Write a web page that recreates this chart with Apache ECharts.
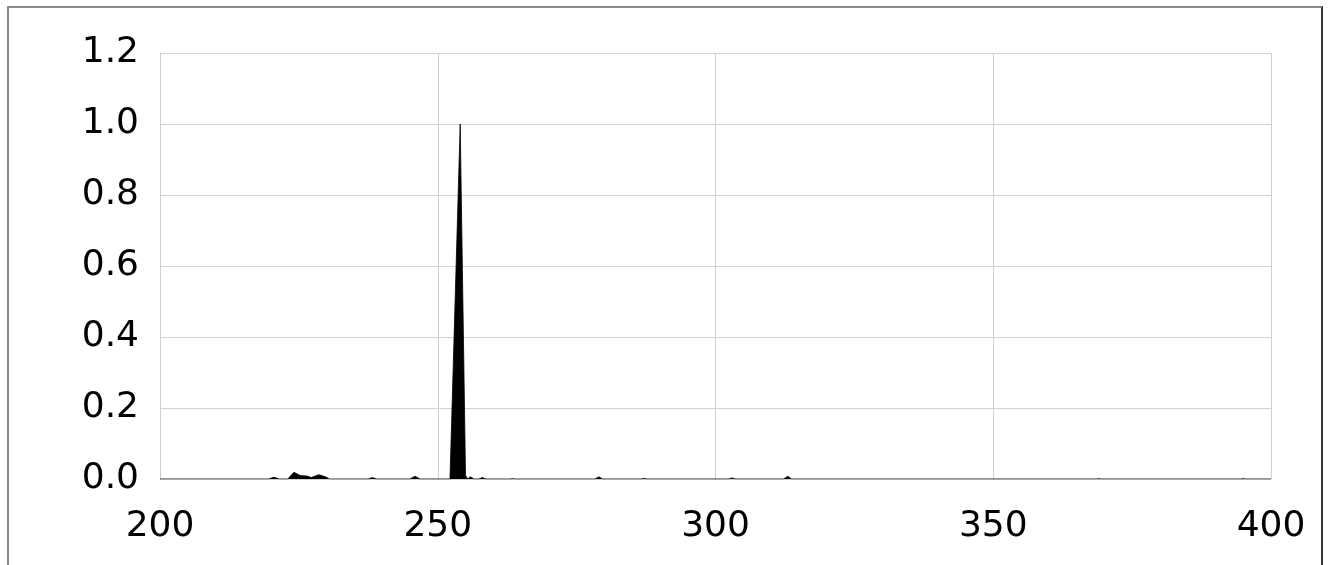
<!DOCTYPE html>
<html><head><meta charset="utf-8">
<script src="https://cdn.jsdelivr.net/npm/echarts@6/dist/echarts.min.js"></script>
<style>
html,body{margin:0;padding:0;background:#fff;}
#frame{position:absolute;left:7px;top:6px;width:1316px;height:600px;border-left:2px solid #8a8a8a;border-top:2px solid #8a8a8a;border-right:2px solid #333;box-sizing:border-box;}
#c{position:absolute;left:0;top:0;width:1329px;height:565px;}
</style></head>
<body>
<div id="frame"></div>
<div id="c"></div>
<script>
const wavelengths = [200, 219.5, 220.5, 221.5, 223, 224.1, 225.2, 226.6, 227.2, 228.6, 229.8, 230.5,
  237.5, 238.2, 239, 245, 245.9, 246.8, 252.2, 254.04, 255.0, 255.4, 255.9, 256.5, 257.4, 258, 258.7,
  263, 263.5, 264, 278.3, 279, 279.7, 286.5, 287.1, 287.7, 302.4, 303, 303.6, 312.3, 313, 313.7,
  368.5, 369, 369.5, 394.5, 395, 395.5, 400];
const intensity = [0, 0, 0.005, 0, 0, 0.019, 0.01, 0.008, 0.004, 0.012, 0.006, 0,
  0, 0.004, 0, 0, 0.008, 0, 0, 1.0, 0.01, 0, 0.006, 0, 0, 0.004, 0,
  0, 0.001, 0, 0, 0.006, 0, 0, 0.0015, 0, 0, 0.003, 0, 0, 0.008, 0,
  0, 0.001, 0, 0, 0.001, 0, 0];
const xTicks = {min: 200, max: 400, interval: 50};
const yTicks = {min: 0, max: 1.2, interval: 0.2};

const chart = echarts.init(document.getElementById('c'), null, {renderer: 'canvas'});
const font = 'DejaVu Sans';
chart.setOption({
  animation: false,
  grid: {left: 160, right: 58, top: 53, bottom: 86, containLabel: false},
  xAxis: {
    type: 'value', min: xTicks.min, max: xTicks.max, interval: xTicks.interval,
    axisLine: {show: true, lineStyle: {color: '#d0d0d0', width: 1}},
    axisTick: {show: false},
    splitLine: {show: true, lineStyle: {color: '#d0d0d0', width: 1}},
    axisLabel: {color: '#000', fontFamily: font, fontSize: 36, margin: 30}
  },
  yAxis: {
    type: 'value', min: yTicks.min, max: yTicks.max, interval: yTicks.interval,
    axisLine: {show: true, lineStyle: {color: '#d0d0d0', width: 1}},
    axisTick: {show: false},
    splitLine: {show: true, lineStyle: {color: '#d0d0d0', width: 1}},
    axisLabel: {color: '#000', fontFamily: font, fontSize: 36, margin: 21,
      formatter: v => v.toFixed(1)}
  },
  series: [{
    type: 'line',
    data: wavelengths.map((w, i) => [w, intensity[i]]),
    symbol: 'none',
    lineStyle: {color: '#000', width: 0.8},
    areaStyle: {color: '#000', opacity: 1},
    z: 1
  }]
});
</script>
</body></html>
